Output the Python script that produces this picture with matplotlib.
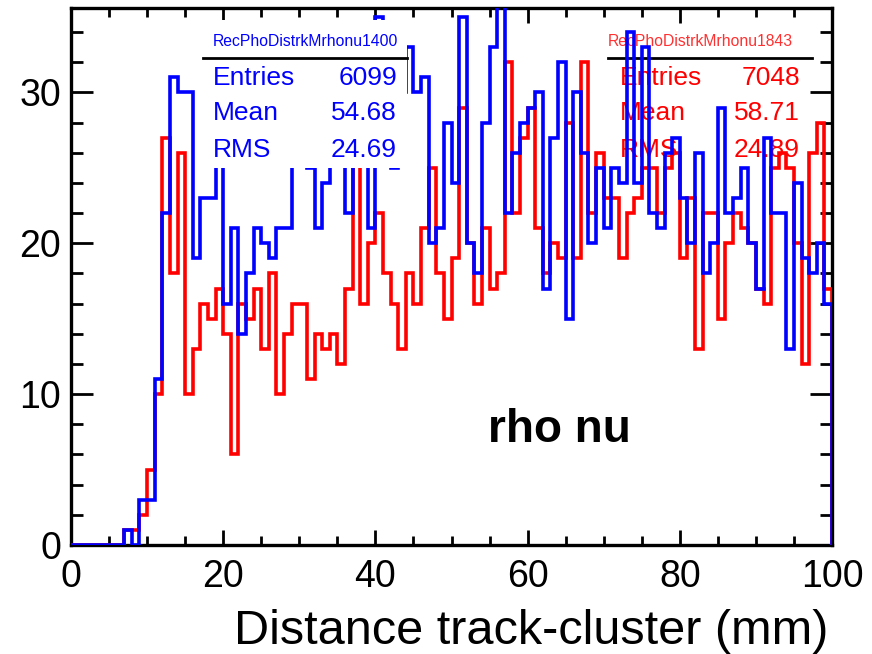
import matplotlib.pyplot as plt
from matplotlib.patches import Rectangle
from matplotlib.ticker import MultipleLocator
import numpy as np

################################################################################
# bin edges: 100 bins of 1 mm
edges = np.arange(0, 101, 1)

# counts per bin (values above ~25 under the blue stat box are guesses)
blue_counts = [0, 0, 0, 0, 0, 0, 0, 1, 0, 3,
               3, 11, 22, 31, 30, 30, 19, 23, 23, 27,
               16, 21, 14, 18, 21, 20, 19, 21, 21, 27,
               26, 25, 21, 24, 28, 27, 22, 26, 27, 21,
               35, 30, 25, 30, 33, 30, 31, 20, 21, 28,
               24, 35, 20, 18, 28, 33, 38, 22, 26, 28,
               29, 30, 17, 27, 32, 15, 30, 26, 20, 25,
               21, 25, 24, 34, 24, 33, 22, 21, 26, 27,
               23, 20, 26, 18, 20, 29, 22, 23, 25, 20,
               17, 27, 22, 22, 13, 24, 19, 18, 20, 16]

red_counts = [0, 0, 0, 0, 0, 0, 0, 1, 1, 2,
              5, 10, 27, 18, 26, 10, 13, 16, 15, 17,
              14, 6, 16, 15, 17, 13, 18, 10, 14, 16,
              16, 11, 14, 13, 14, 12, 17, 26, 16, 20,
              22, 18, 16, 13, 18, 16, 21, 25, 18, 15,
              19, 29, 20, 16, 21, 17, 18, 32, 22, 27,
              29, 21, 18, 20, 19, 28, 19, 32, 22, 26,
              23, 23, 19, 22, 23, 25, 25, 22, 25, 26,
              19, 23, 13, 22, 22, 15, 20, 22, 21, 20,
              17, 16, 25, 26, 25, 20, 12, 26, 28, 17]

blue_stats = ["RecPhoDistrkMrhonu1400", "6099", "54.68", "24.69"]
red_stats = ["RecPhoDistrkMrhonu1843", "7048", "58.71", "24.89"]
stat_names = ["Entries", "Mean", "RMS"]

################################################################################
plt.rcParams['font.family'] = ['Liberation Sans', 'DejaVu Sans']

W, H = 872, 654
fig = plt.figure(figsize=(W/100, H/100), dpi=100)
ax = fig.add_axes([71/W, 1 - 545/H, (832 - 71)/W, (545 - 8)/H])

ax.stairs(red_counts, edges, color='#ff0000', lw=2.6, zorder=3)
ax.stairs(blue_counts, edges, color='#0000ff', lw=2.6, zorder=4)

ax.set_xlim(0, 100)
ax.set_ylim(0, 35.6)

ax.set_xticks(np.arange(0, 101, 20))
ax.xaxis.set_minor_locator(MultipleLocator(5))
ax.set_yticks([0, 10, 20, 30])
ax.yaxis.set_minor_locator(MultipleLocator(2))

ax.tick_params(which='both', direction='in', top=True, right=True,
               width=2, labelsize=27, color='black')
ax.tick_params(axis='x', which='major', length=11, pad=10)
ax.tick_params(axis='x', which='minor', length=6.5)
ax.tick_params(axis='y', which='major', length=16, pad=7)
ax.tick_params(axis='y', which='minor', length=8.5)
for sp in ax.spines.values():
    sp.set_linewidth(2.4)

# pixel -> data helpers (plot spans x 71..832 px, y 545..8 px)
def px_x(p):
    return (p - 71) / 7.61

def px_y(p):
    return (545 - p) / (537 / 35.6)

# blue stat box: opaque, on top of everything
ax.add_patch(Rectangle((px_x(203), px_y(168)), px_x(407) - px_x(203), px_y(20) - px_y(168),
                       facecolor='white', edgecolor='none', zorder=5))
ax.plot([px_x(203), px_x(407)], [px_y(58), px_y(58)], color='black', lw=2, zorder=6)
ax.text(px_x(305), px_y(42), blue_stats[0], color='#0000ff', fontsize=11.3,
        ha='center', va='center', zorder=6)
for i, name in enumerate(stat_names):
    yy = px_y([78, 113, 150][i])
    ax.text(px_x(213), yy, name, color='#0000ff', fontsize=19, ha='left', va='center', zorder=6)
    ax.text(px_x(397), yy, blue_stats[i + 1], color='#0000ff', fontsize=19,
            ha='right', va='center', zorder=6)

# red stat box: no fill, drawn below the histograms
ax.plot([px_x(608), px_x(812)], [px_y(58), px_y(58)], color='black', lw=2, zorder=2)
ax.text(px_x(700), px_y(42), red_stats[0], color='#ff3030', fontsize=11.3,
        ha='center', va='center', zorder=2)
for i, name in enumerate(stat_names):
    yy = px_y([78, 113, 150][i])
    ax.text(px_x(620), yy, name, color='#ff0000', fontsize=19, ha='left', va='center', zorder=2)
    ax.text(px_x(800), yy, red_stats[i + 1], color='#ff0000', fontsize=19,
            ha='right', va='center', zorder=2)

ax.text(54.8, 6.8, 'rho nu', fontsize=33, fontweight='bold', ha='left', va='baseline', zorder=6)

fig.text(828/W, 1 - 631/H, 'Distance track-cluster (mm)', fontsize=35, ha='right', va='center')

fig.savefig('out.png', dpi=100)
